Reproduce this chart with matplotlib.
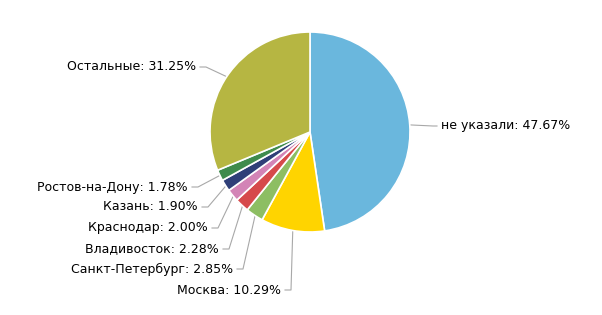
import numpy as np
import matplotlib
matplotlib.use("Agg")
import matplotlib.pyplot as plt

# shares by city (clockwise from 12 o'clock)
cities = ["не указали", "Москва", "Санкт-Петербург", "Владивосток",
          "Краснодар", "Казань", "Ростов-на-Дону", "Остальные"]
shares = [47.67, 10.29, 2.85, 2.28, 2.00, 1.90, 1.78, 31.25]
colors = ["#6ab7dd", "#ffd400", "#8dbe63", "#d64a4b",
          "#d384b6", "#2f3f78", "#3f8b4d", "#b6b642"]

# label anchors (px): x of text edge, y of text centre, side
label_pos = [(441, 126, "left"), (281, 290, "right"), (233, 269, "right"),
             (219, 249, "right"), (208, 228, "right"), (198, 207, "right"),
             (188, 187, "right"), (196, 67, "right")]

W, H = 602, 315
CX, CY, R = 310, 132, 100

fig = plt.figure(figsize=(W / 100, H / 100), dpi=100)
ax = fig.add_axes([0, 0, 1, 1])

# y axis points down (pixel coords), so clockwise on screen = counterclock in data
wedges, _ = ax.pie(shares, colors=colors, startangle=-90, counterclock=True,
                   center=(CX, CY), radius=R, frame=True,
                   wedgeprops=dict(edgecolor="white", linewidth=1.2))
ax.set_xlim(0, W)
ax.set_ylim(H, 0)
ax.set_aspect("auto")
ax.axis("off")

for w, name, val, (tx, ty, side) in zip(wedges, cities, shares, label_pos):
    mid = np.deg2rad((w.theta1 + w.theta2) / 2)
    ex = CX + (R - 2) * np.cos(mid)
    ey = CY + (R - 2) * np.sin(mid)
    if side == "right":
        pts = [(ex, ey), (tx + 10, ty), (tx + 4, ty)]
    else:
        pts = [(ex, ey), (tx - 8, ty), (tx - 4, ty)]
    xs, ys = zip(*pts)
    ax.plot(xs, ys, color="#a8a8a8", lw=0.8, zorder=0)
    ax.text(tx, ty, f"{name}: {val:.2f}%", ha=side, va="center",
            fontsize=9, color="black", family="DejaVu Sans")

fig.savefig("out.png", dpi=100)
